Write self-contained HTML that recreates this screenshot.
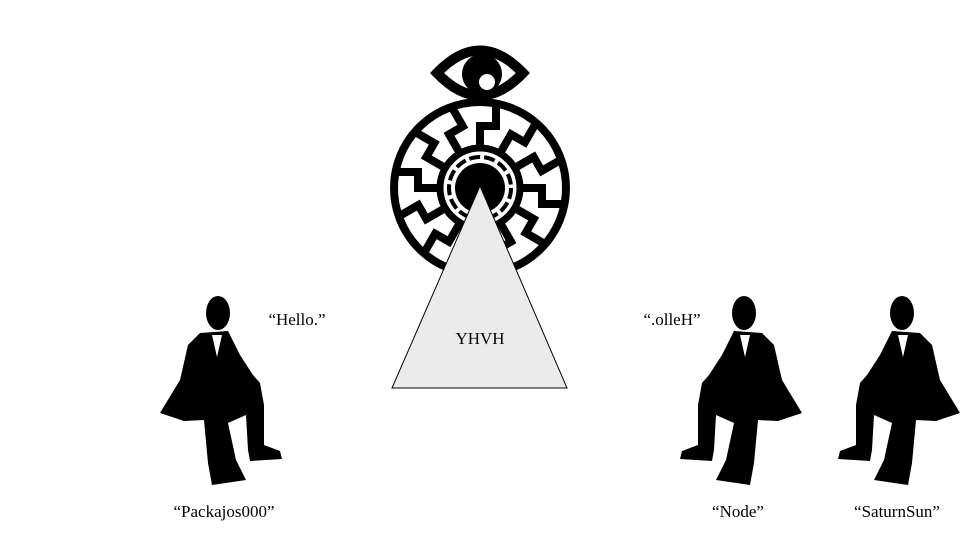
<!DOCTYPE html>
<html><head><meta charset="utf-8"><style>
html,body{margin:0;padding:0;background:#fff;}
svg{display:block;}
text{font-family:"Liberation Serif",serif;font-size:17px;fill:#000;}
</style></head><body>
<svg width="960" height="540" viewBox="0 0 960 540" xmlns="http://www.w3.org/2000/svg">
<defs>
<g id="man">
<ellipse cx="58" cy="18" rx="12" ry="17" fill="#000"/>
<polygon fill="#000" points="40,38 68,36 80,60 93,80 100,88 104,110 104,150 120,156 122,164 90,166 88,155 86,120 68,128 76,165 86,185 52,190 48,168 44,125 24,126 0,118 20,85 28,50"/>
<polygon fill="#fff" points="52,40 62,40 57,62"/>
</g>
<path id="arm" d="M0,-40 L0,-62 L16,-62 L16,-86" fill="none" stroke="#000" stroke-width="8" stroke-linejoin="miter"/>
</defs>
<!-- eye -->
<path d="M437,73 Q480,28 523,73 Q480,118 437,73 Z" fill="#fff" stroke="#000" stroke-width="10"/>
<circle cx="482" cy="74" r="20" fill="#000"/>
<circle cx="487" cy="82" r="8" fill="#fff"/>
<rect x="475" y="94" width="12" height="10" fill="#000"/>
<!-- sun wheel -->
<g transform="translate(480,188)">
<circle r="86" fill="#fff" stroke="#000" stroke-width="8"/>
<use href="#arm"/><use href="#arm" transform="rotate(30)"/><use href="#arm" transform="rotate(60)"/><use href="#arm" transform="rotate(90)"/><use href="#arm" transform="rotate(120)"/><use href="#arm" transform="rotate(150)"/><use href="#arm" transform="rotate(180)"/><use href="#arm" transform="rotate(210)"/><use href="#arm" transform="rotate(240)"/><use href="#arm" transform="rotate(270)"/><use href="#arm" transform="rotate(300)"/><use href="#arm" transform="rotate(330)"/>
<circle r="40" fill="#fff" stroke="#000" stroke-width="7"/>
<circle r="31" fill="none" stroke="#000" stroke-width="4" stroke-dasharray="11 4"/>
<circle r="25" fill="#000"/>
</g>
<!-- triangle -->
<polygon points="480,186 392,388 567,388" fill="#ebebeb" stroke="#000" stroke-width="1"/>
<text x="480" y="344" text-anchor="middle">YHVH</text>
<!-- figures -->
<use href="#man" transform="translate(160,295)"/>
<use href="#man" transform="translate(802,295) scale(-1,1)"/>
<use href="#man" transform="translate(960,295) scale(-1,1)"/>
<text x="297" y="325" text-anchor="middle">“Hello.”</text>
<text x="672" y="325" text-anchor="middle">“.olleH”</text>
<text x="224" y="517" text-anchor="middle">“Packajos000”</text>
<text x="738" y="517" text-anchor="middle">“Node”</text>
<text x="897" y="517" text-anchor="middle">“SaturnSun”</text>
</svg>
</body></html>
